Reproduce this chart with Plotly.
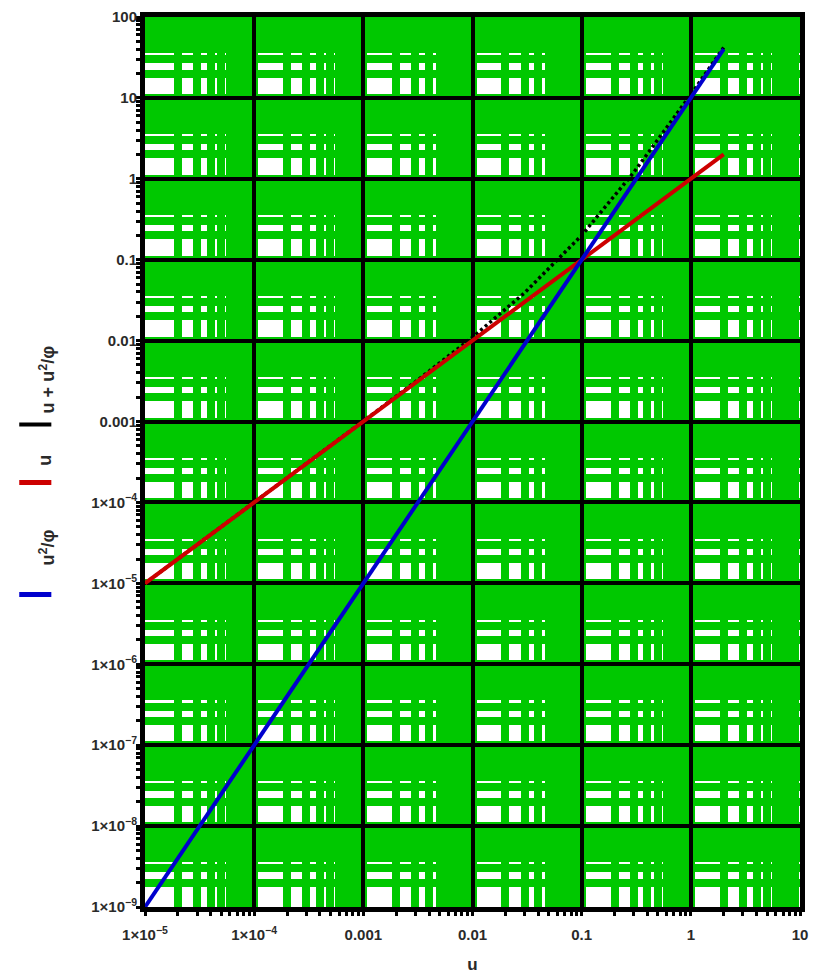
import plotly.graph_objects as go

# sampled points along the three curves (log-log)
u_vals = [1e-5, 1e-4, 1e-3, 3e-3, 1e-2, 3e-2, 0.1, 0.3, 1, 2]
red_vals = [1e-5, 1e-4, 1e-3, 3e-3, 1e-2, 3e-2, 0.1, 0.3, 1, 2]
blue_vals = [1e-9, 1e-7, 1e-5, 9e-5, 1e-3, 9e-3, 0.1, 0.9, 10, 40]
black_vals = [1.0e-5, 1.0e-4, 1.01e-3, 3.1e-3, 0.011, 0.039, 0.2, 1.2, 11, 42]

x_tickvals = [1e-5, 1e-4, 1e-3, 1e-2, 1e-1, 1, 10]
x_ticktext = ["1×10<sup>−5</sup>", "1×10<sup>−4</sup>", "0.001", "0.01", "0.1", "1", "10"]
y_tickvals = [1e-9, 1e-8, 1e-7, 1e-6, 1e-5, 1e-4, 1e-3, 1e-2, 1e-1, 1, 10, 100]
y_ticktext = ["1×10<sup>−9</sup>", "1×10<sup>−8</sup>", "1×10<sup>−7</sup>", "1×10<sup>−6</sup>",
              "1×10<sup>−5</sup>", "1×10<sup>−4</sup>", "0.001", "0.01", "0.1", "1", "10", "100"]

GREEN = "rgb(0,200,0)"
RED = "rgb(205,0,0)"
BLUE = "rgb(0,0,205)"
TEXT = "#2a2a2a"
FONT = dict(family="Liberation Sans", size=15, color=TEXT, weight="bold")

fig = go.Figure()
fig.add_trace(go.Scatter(x=u_vals, y=black_vals, mode="lines",
                         line=dict(color="black", width=3.5, dash="3px,3px")))
fig.add_trace(go.Scatter(x=u_vals, y=red_vals, mode="lines",
                         line=dict(color=RED, width=4)))
fig.add_trace(go.Scatter(x=u_vals, y=blue_vals, mode="lines",
                         line=dict(color=BLUE, width=4)))

axis_common = dict(
    type="log",
    showline=True, linecolor="black", linewidth=5, mirror=True,
    showgrid=True, gridcolor="black", gridwidth=4,
    ticks="", tickfont=FONT,
    zeroline=False,
    minor=dict(dtick="D1", showgrid=True, gridcolor=GREEN, gridwidth=8,
               ticks="outside", ticklen=4, tickwidth=3, tickcolor="black"),
)

fig.update_xaxes(range=[-5, 1], tickmode="array", tickvals=x_tickvals, ticktext=x_ticktext,
                 ticklabelstandoff=10,
                 title=dict(text="u", font=dict(family="Liberation Sans", size=17, color=TEXT,
                                                weight="bold"),
                            standoff=18),
                 **axis_common)
fig.update_yaxes(range=[-9, 2], tickmode="array", tickvals=y_tickvals, ticktext=y_ticktext,
                 **axis_common)

# rotated legend entries to the left of the axis
legend_items = [
    ("u + u<sup>2</sup>/φ", "black", 0.542, 0.593, 4),
    ("u", RED, 0.477, 0.502, 5),
    ("u<sup>2</sup>/φ", BLUE, 0.351, 0.404, 5),
]
for text, color, sy, ty, w in legend_items:
    fig.add_shape(type="line", xref="paper", yref="paper",
                  x0=-0.192, x1=-0.143, y0=sy, y1=sy,
                  line=dict(color=color, width=w))
    fig.add_annotation(xref="paper", yref="paper", x=-0.17, y=ty, text=text,
                       textangle=-90, showarrow=False,
                       font=dict(family="Liberation Sans", size=18, color=TEXT, weight="bold"))

fig.update_layout(
    width=815, height=980,
    margin=dict(l=145, r=7, t=17, b=72),
    paper_bgcolor="white", plot_bgcolor="white",
    showlegend=False,
)

fig.write_html("out.html")
